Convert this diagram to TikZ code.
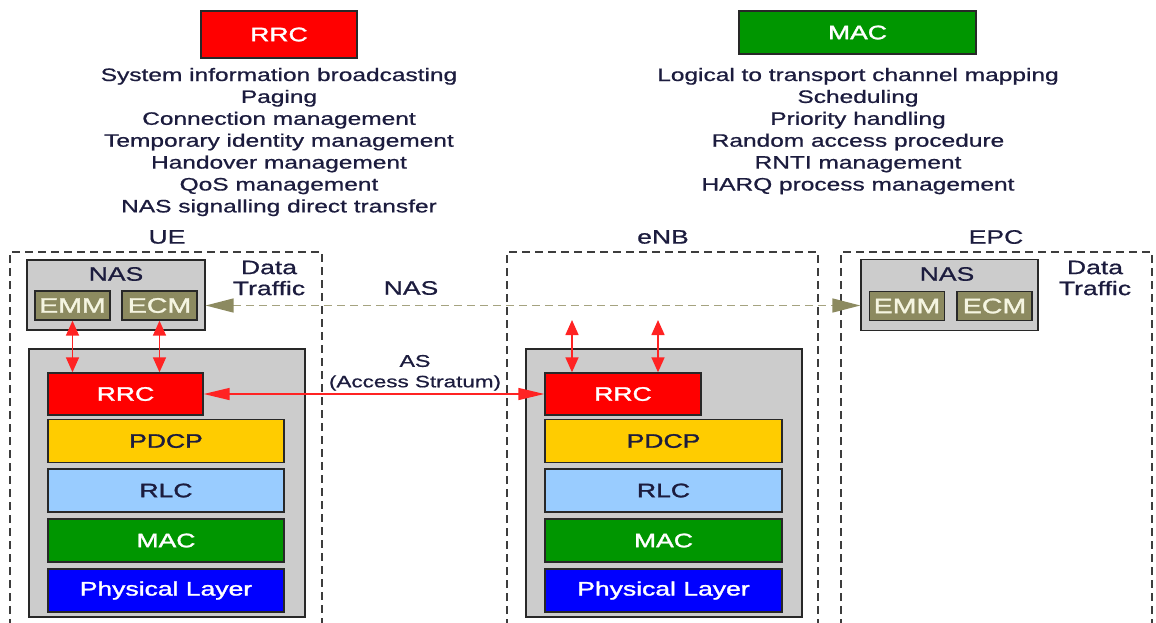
\documentclass[tikz,border=0pt]{standalone}
\usepackage{graphicx}
\usepackage{fontspec}
\setmainfont{Liberation Sans}[FakeBold=0.7]
\newfontfamily\labelfont{Liberation Sans}[FakeBold=1.4]
\usetikzlibrary{arrows.meta}

% wide lettering used throughout
\newcommand{\hs}[1]{\scalebox{1.36}[1]{#1}}

\definecolor{rrcred}{RGB}{255,0,0}
\definecolor{macgreen}{RGB}{0,150,0}
\definecolor{pdcpyellow}{RGB}{255,204,0}
\definecolor{rlcblue}{RGB}{153,204,255}
\definecolor{phyblue}{RGB}{0,0,255}
\definecolor{stackgray}{RGB}{204,204,204}
\definecolor{nasolive}{RGB}{140,138,96}
\definecolor{nasdash}{RGB}{165,163,128}
\definecolor{inkblue}{RGB}{28,28,62}
\definecolor{edgegray}{RGB}{40,40,40}
\definecolor{arrowred}{RGB}{255,35,35}
\definecolor{creamtext}{RGB}{245,245,225}

\begin{document}
\begin{tikzpicture}[x=1pt,y=-1pt,
  txt/.style={inner sep=0pt, text=inkblue},
  desc/.style={txt, anchor=base, font=\fontsize{18}{21}\selectfont},
  title/.style={txt, font=\fontsize{19.5}{21}\selectfont},
  layerbox/.style={draw=edgegray, line width=1.4pt, inner sep=0pt,
    font=\labelfont\fontsize{19.5}{22}\selectfont},
  stackbox/.style={draw=edgegray, line width=1.3pt, fill=stackgray, inner sep=0pt},
  subbox/.style={draw=edgegray, line width=1.4pt, fill=nasolive, inner sep=0pt,
    text=creamtext, font=\labelfont\fontsize{21}{22}\selectfont,
    minimum width=75pt, minimum height=29pt},
  zonebox/.style={draw=edgegray!90, line width=1.5pt, dash pattern=on 8pt off 5pt},
  redarrow/.style={draw=arrowred, line width=1.6pt,
    {Triangle[length=15pt,width=13pt]}-{Triangle[length=15pt,width=13pt]}},
  asarrow/.style={draw=arrowred, line width=1.5pt,
    {Triangle[length=26pt,width=12pt]}-{Triangle[length=26pt,width=12pt]}},
  nasarrow/.style={draw=nasdash, line width=1.5pt, dash pattern=on 8pt off 5pt,
    {Triangle[length=28pt,width=14pt,fill=nasolive,color=nasolive]}-{Triangle[length=28pt,width=14pt,fill=nasolive,color=nasolive]}}
]
\useasboundingbox (0,0) rectangle (1156,622);
\clip (0,0) rectangle (1156,622);

% ---------- function lists ----------
\node[layerbox, fill=rrcred, text=white, minimum width=156pt, minimum height=47pt]
  (toprrc) at (279,34.5) {\hs{RRC}};
\node[layerbox, fill=macgreen, text=white, minimum width=237pt, minimum height=43pt]
  (topmac) at (857.5,32.5) {\hs{MAC}};

\node[desc] (rrcf1) at (279,81.0)  {\hs{System information broadcasting}};
\node[desc] (rrcf2) at (279,102.9) {\hs{Paging}};
\node[desc] (rrcf3) at (279,124.8) {\hs{Connection management}};
\node[desc] (rrcf4) at (279,146.7) {\hs{Temporary identity management}};
\node[desc] (rrcf5) at (279,168.6) {\hs{Handover management}};
\node[desc] (rrcf6) at (279,190.5) {\hs{QoS management}};
\node[desc] (rrcf7) at (279,212.4) {\hs{NAS signalling direct transfer}};

\node[desc] (macf1) at (858,81.0)  {\hs{Logical to transport channel mapping}};
\node[desc] (macf2) at (858,102.9) {\hs{Scheduling}};
\node[desc] (macf3) at (858,124.8) {\hs{Priority handling}};
\node[desc] (macf4) at (858,146.7) {\hs{Random access procedure}};
\node[desc] (macf5) at (858,168.6) {\hs{RNTI management}};
\node[desc] (macf6) at (858,190.5) {\hs{HARQ process management}};

% ---------- domains ----------
\draw[zonebox] (10,640) -- (10,252) -- (322,252) -- (322,640);
\draw[zonebox] (507,640) -- (507,252) -- (818,252) -- (818,640);
\draw[zonebox] (841,640) -- (841,252) -- (1152,252) -- (1152,640);
\node[title] (uelbl)  at (167,237) {\hs{UE}};
\node[title] (enblbl) at (663,237) {\hs{eNB}};
\node[title] (epclbl) at (996,237) {\hs{EPC}};

% ---------- NAS boxes ----------
\node[stackbox, minimum width=178pt, minimum height=70pt] (uenas) at (116,295) {};
\node[title] (uenastxt) at (116,274) {\hs{NAS}};
\node[subbox] (ueemm) at (72.5,305.5) {\hs{EMM}};
\node[subbox] (ueecm) at (159.5,305.5) {\hs{ECM}};
\node[title, align=center] (uedata) at (269,278) {\hs{Data}\\\hs{Traffic}};

\node[stackbox, minimum width=177pt, minimum height=71pt] (epcnas) at (949.5,295) {};
\node[title] (epcnastxt) at (947,274) {\hs{NAS}};
\node[subbox] (epcemm) at (907,306) {\hs{EMM}};
\node[subbox] (epcecm) at (994.5,306) {\hs{ECM}};
\node[title, align=center] (epcdata) at (1095,278) {\hs{Data}\\\hs{Traffic}};

% ---------- protocol stacks ----------
\node[stackbox, minimum width=276pt, minimum height=268pt] (uestack) at (167,483) {};
\node[layerbox, fill=rrcred, text=white, minimum width=155pt, minimum height=42pt] (uerrc) at (125.5,394) {\hs{RRC}};
\node[layerbox, fill=pdcpyellow, text=inkblue, minimum width=236pt, minimum height=43pt] (uepdcp) at (166,441) {\hs{PDCP}};
\node[layerbox, fill=rlcblue, text=inkblue, minimum width=236pt, minimum height=43pt] (uerlc) at (166,490.5) {\hs{RLC}};
\node[layerbox, fill=macgreen, text=white, minimum width=236pt, minimum height=43pt] (uemac) at (166,540.5) {\hs{MAC}};
\node[layerbox, fill=phyblue, text=white, minimum width=236pt, minimum height=43pt] (uephy) at (166,590.5) {\hs{Physical Layer}};

\node[stackbox, minimum width=276pt, minimum height=268pt] (enbstack) at (664,483) {};
\node[layerbox, fill=rrcred, text=white, minimum width=156pt, minimum height=42pt] (enbrrc) at (623,394) {\hs{RRC}};
\node[layerbox, fill=pdcpyellow, text=inkblue, minimum width=237pt, minimum height=43pt] (enbpdcp) at (663.5,441) {\hs{PDCP}};
\node[layerbox, fill=rlcblue, text=inkblue, minimum width=237pt, minimum height=43pt] (enbrlc) at (663.5,490.5) {\hs{RLC}};
\node[layerbox, fill=macgreen, text=white, minimum width=237pt, minimum height=43pt] (enbmac) at (663.5,540.5) {\hs{MAC}};
\node[layerbox, fill=phyblue, text=white, minimum width=237pt, minimum height=43pt] (enbphy) at (663.5,590.5) {\hs{Physical Layer}};

% ---------- connectors ----------
\draw[redarrow] (ueemm.south) -- (ueemm.south |- uerrc.north);
\draw[redarrow] (ueecm.south) -- (ueecm.south |- uerrc.north);

\coordinate (enbtop1) at (572,320);
\coordinate (enbtop2) at (658,320);
\draw[redarrow] (enbtop1) -- (enbtop1 |- enbrrc.north);
\draw[redarrow] (enbtop2) -- (enbtop2 |- enbrrc.north);

\draw[asarrow] (uerrc.east) -- (enbrrc.west);
\draw[nasarrow] (uenas.east |- ueecm.center) -- (epcnas.west |- ueecm.center);

\node[title] (naslbl) at (411,288) {\hs{NAS}};
\node[txt, font=\fontsize{17}{18}\selectfont] (aslbl) at (415,361) {\hs{AS}};
\node[txt, font=\fontsize{16.5}{18}\selectfont] (asfull) at (415,383) {\hs{(Access Stratum)}};
\end{tikzpicture}
\end{document}
